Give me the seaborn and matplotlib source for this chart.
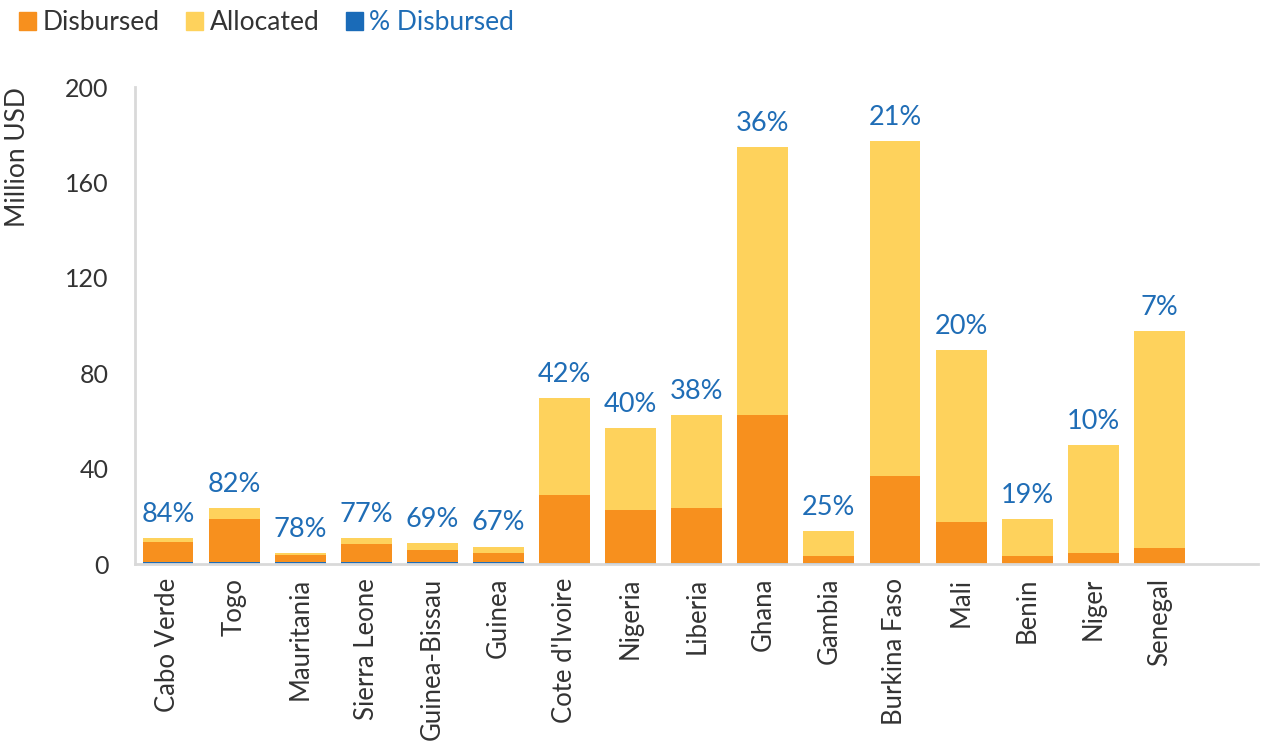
import matplotlib.pyplot as plt
import seaborn as sns
from matplotlib.patches import Patch

countries = ["Cabo Verde", "Togo", "Mauritania", "Sierra Leone", "Guinea-Bissau", "Guinea",
             "Cote d'Ivoire", "Nigeria", "Liberia", "Ghana", "Gambia", "Burkina Faso",
             "Mali", "Benin", "Niger", "Senegal"]
allocated = [10.9, 23.3, 4.7, 10.9, 8.9, 7.3, 69.5, 57.2, 62.6, 174.8, 13.8, 177.4, 89.7, 18.7, 49.9, 97.7]
disbursed = [9.1, 18.9, 3.6, 8.3, 6.0, 4.8, 29.0, 22.8, 23.5, 62.7, 3.3, 36.8, 17.8, 3.3, 4.7, 6.6]
pct_disbursed = [84, 82, 78, 77, 69, 67, 42, 40, 38, 36, 25, 21, 20, 19, 10, 7]

orange = "#F7901E"
yellow = "#FED25C"
blue = "#1F6DB6"
grey_txt = "#333333"

sns.set_style("white")
plt.rcParams["font.family"] = ["Lato", "DejaVu Sans"]

fig = plt.figure(figsize=(12.61, 7.52), dpi=100)
ax = fig.add_axes([0.107, 0.25, 0.891, 0.634])

sns.barplot(x=countries, y=allocated, color=yellow, saturation=1, width=0.77, linewidth=0, ax=ax)
sns.barplot(x=countries, y=disbursed, color=orange, saturation=1, width=0.77, linewidth=0, ax=ax)
sns.barplot(x=countries, y=[p / 100 for p in pct_disbursed], color=blue, saturation=1, width=0.77,
            linewidth=0, ax=ax)

for i, (tot, p) in enumerate(zip(allocated, pct_disbursed)):
    ax.annotate(f"{p}%", (i, tot), xytext=(0, 8), textcoords="offset points",
                ha="center", va="bottom", fontsize=19.5, color=blue)

ax.set_xlim(-0.5, 16.5)
ax.set_ylim(0, 200)
ax.set_yticks([0, 40, 80, 120, 160, 200])
ax.tick_params(axis="y", length=0, pad=19, labelsize=18, labelcolor=grey_txt)
ax.tick_params(axis="x", length=0, pad=10, labelsize=18.5, labelcolor=grey_txt, rotation=90)

for s in ["top", "right"]:
    ax.spines[s].set_visible(False)
for s in ["left", "bottom"]:
    ax.spines[s].set_color("#D9D9D9")
    ax.spines[s].set_linewidth(2)

ax.set_ylabel("Million USD", fontsize=19, color=grey_txt)
ax.yaxis.set_label_coords(-0.093, 0.853)

handles = [Patch(color=orange), Patch(color=yellow), Patch(color="#1A6BB8")]
leg = fig.legend(handles, ["Disbursed", "Allocated", "% Disbursed"], loc="upper left",
                 bbox_to_anchor=(-0.004, 1.018), ncol=3, frameon=False, fontsize=19,
                 handlelength=0.65, handleheight=0.65, handletextpad=0.25, columnspacing=1.0)
for t, c in zip(leg.get_texts(), [grey_txt, grey_txt, blue]):
    t.set_color(c)

fig.savefig("out.png", dpi=100)
